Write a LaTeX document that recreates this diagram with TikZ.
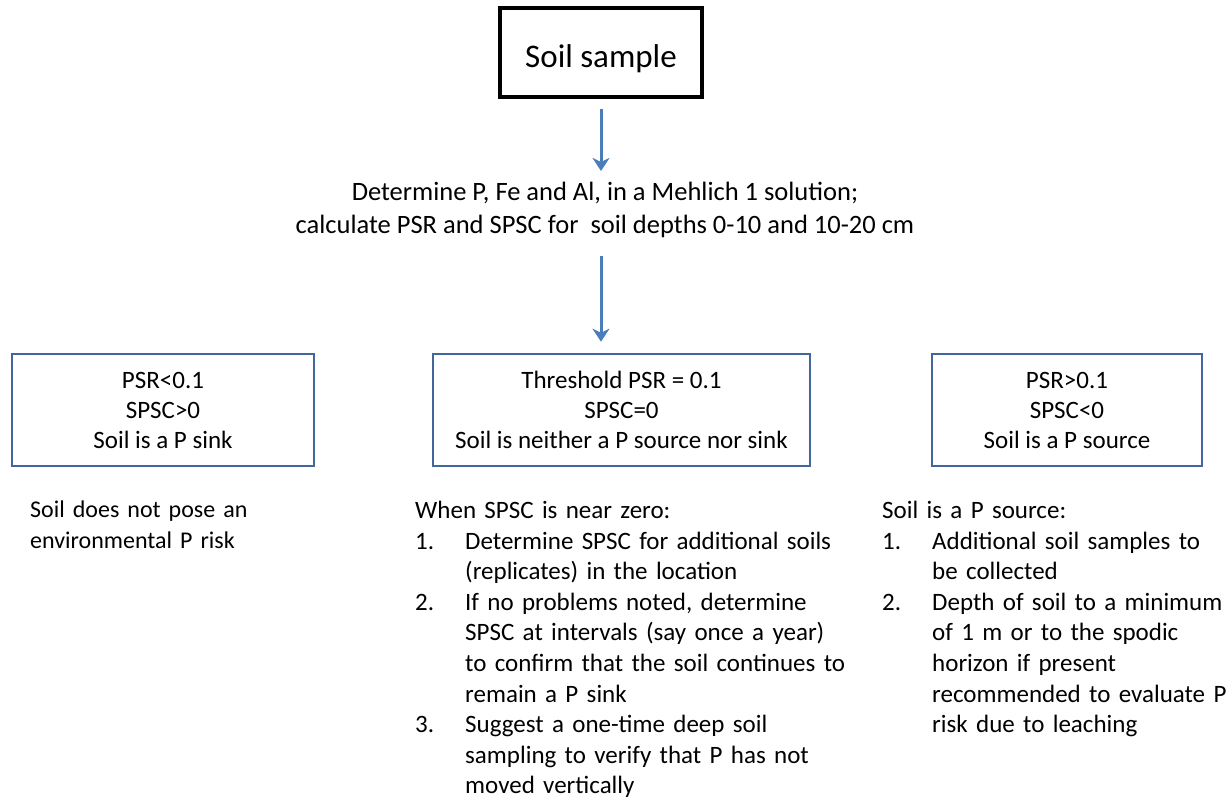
\documentclass[tikz,border=0pt]{standalone}
\usepackage{fontspec}
\setmainfont{Carlito}
\usetikzlibrary{arrows.meta}
\definecolor{arrblue}{HTML}{4A7EBB}
\definecolor{boxblue}{HTML}{43679A}
\newcommand{\litem}[2]{\par\noindent\hangindent=50pt\hangafter=1\makebox[50pt][l]{#1}#2\par}
\begin{document}
\begin{tikzpicture}[x=1pt,y=-1pt,
  bluebox/.style={draw=boxblue,line width=2.6pt,minimum height=112pt,inner sep=0pt,align=center,font=\fontsize{25}{30}\selectfont},
  arr/.style={draw=arrblue,line width=3pt,-{Stealth[length=13pt,width=17pt,inset=4pt]}},
  listtext/.style={anchor=north west,inner sep=0pt,align=left,font=\fontsize{25}{30.6}\selectfont}]
\useasboundingbox (0,0) rectangle (1232,798);
\node[draw=black,line width=3.5pt,minimum width=202pt,minimum height=89pt,font=\fontsize{33}{38}\selectfont] (top) at (601,52.5) {\raisebox{-15pt}[0pt][0pt]{Soil sample}};
\node[align=center,inner sep=0pt,font=\fontsize{26.5}{33}\selectfont] (mid) at (605,210) {Determine P, Fe and Al, in a Mehlich 1 solution;\\calculate PSR and SPSC for\ \ soil depths 0-10 and 10-20 cm};
\node[bluebox,minimum width=302pt] (bl) at (163,410) {PSR<0.1\\SPSC>0\\Soil is a P sink};
\node[bluebox,minimum width=377pt] (bm) at (621.5,410) {Threshold PSR = 0.1\\SPSC=0\\Soil is neither a P source nor sink};
\node[bluebox,minimum width=270pt] (br) at (1067,410) {PSR>0.1\\SPSC<0\\Soil is a P source};
\draw[arr,shorten <=10pt,shorten >=11pt] (top.south) -- (mid.north -| top.south);
\draw[arr,shorten <=18pt,shorten >=11pt] (mid.south -| top.south) -- (bm.north -| top.south);
\node[listtext,text width=300pt,font=\fontsize{24}{30.6}\selectfont] (tl) at (30,501) {Soil does not pose an\newline environmental P risk};
\node[listtext,text width=480pt] (tm) at (415,501) {When SPSC is near zero:
\litem{1.}{Determine SPSC for additional soils\newline (replicates) in the location}
\litem{2.}{If no problems noted, determine\newline SPSC at intervals (say once a year)\newline to confirm that the soil continues to\newline remain a P sink}
\litem{3.}{Suggest a one-time deep soil\newline sampling to verify that P has not\newline moved vertically}};
\node[listtext,text width=360pt] (tr) at (882,501) {Soil is a P source:
\litem{1.}{Additional soil samples to\newline be collected}
\litem{2.}{Depth of soil to a minimum\newline of 1 m or to the spodic\newline horizon if present\newline recommended to evaluate P\newline risk due to leaching}};
\end{tikzpicture}
\end{document}
